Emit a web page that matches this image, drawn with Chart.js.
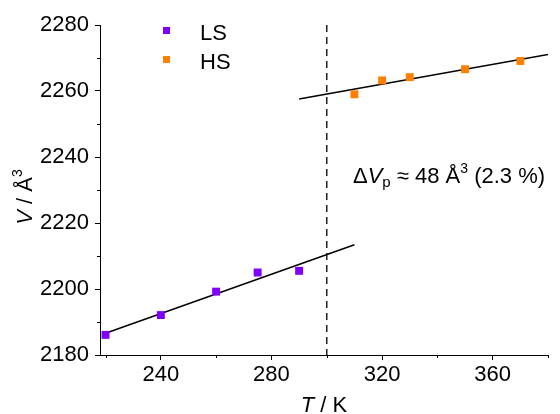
<!DOCTYPE html>
<html>
<head>
<meta charset="utf-8">
<script src="https://cdn.jsdelivr.net/npm/chart.js@4.4.1/dist/chart.umd.min.js"></script>
<style>
  html, body { margin: 0; padding: 0; background: #fff; }
  #wrap { width: 560px; height: 414px; }
</style>
</head>
<body>
<div id="wrap"><canvas id="chart" width="560" height="414"></canvas></div>
<script>
// Data
const lsTemps = [220, 240, 260, 275, 290];
const lsVolumes = [2186.1, 2192.1, 2199.2, 2205.0, 2205.5];
const hsTemps = [310, 320, 330, 350, 370];
const hsVolumes = [2259.0, 2263.2, 2264.2, 2266.6, 2269.1];

// Linear fit lines (endpoints)
const lsFitT = [220, 310];
const lsFitV = [2186.6, 2213.4];
const hsFitT = [290, 380];
const hsFitV = [2257.6, 2271.1];

// Transition temperature marker
const transitionT = 300;

// Axis ticks
const xTicks = [220, 240, 260, 280, 300, 320, 340, 360, 380];
const xMajor = [240, 280, 320, 360];
const yTicks = [2180, 2190, 2200, 2210, 2220, 2230, 2240, 2250, 2260, 2270, 2280];
const yMajor = [2180, 2200, 2220, 2240, 2260, 2280];

const FONT = "'Liberation Sans', Arial, sans-serif";
const PURPLE = '#7f00ff';
const ORANGE = '#ff7f00';

const toPoints = (xs, ys) => xs.map((x, i) => ({ x: x, y: ys[i] }));

// Draws minor ticks, axis titles, legend and annotation
const extrasPlugin = {
    id: 'extras',
    afterDraw(chart) {
        const ctx = chart.ctx;
        const xs = chart.scales.x;
        const ys = chart.scales.y;
        const area = chart.chartArea;

        ctx.save();
        ctx.strokeStyle = '#000';
        ctx.lineWidth = 1;
        // minor ticks
        xTicks.filter(v => !xMajor.includes(v)).forEach(v => {
            const px = Math.round(xs.getPixelForValue(v)) + 0.5;
            ctx.beginPath();
            ctx.moveTo(px, area.bottom);
            ctx.lineTo(px, area.bottom + 3);
            ctx.stroke();
        });
        yTicks.filter(v => !yMajor.includes(v)).forEach(v => {
            const py = Math.round(ys.getPixelForValue(v)) + 0.5;
            ctx.beginPath();
            ctx.moveTo(area.left, py);
            ctx.lineTo(area.left - 3, py);
            ctx.stroke();
        });

        ctx.fillStyle = '#000';
        ctx.textBaseline = 'alphabetic';

        // x axis title: T / K
        let parts = [
            { t: 'T', f: 'italic 22px ' + FONT },
            { t: ' / K', f: '22px ' + FONT }
        ];
        drawRich(ctx, parts, (area.left + area.right) / 2, 412, true);

        // y axis title: V / Å³ (rotated)
        ctx.save();
        ctx.translate(32, 197);
        ctx.rotate(-Math.PI / 2);
        parts = [
            { t: 'V', f: 'italic 22px ' + FONT },
            { t: ' / Å', f: '22px ' + FONT },
            { t: '3', f: '14px ' + FONT, dy: -10 }
        ];
        drawRich(ctx, parts, 0, 0, true);
        ctx.restore();

        // legend
        const legend = [
            { label: 'LS', color: PURPLE, y: 31 },
            { label: 'HS', color: ORANGE, y: 60 }
        ];
        legend.forEach(item => {
            ctx.fillStyle = item.color;
            ctx.fillRect(163, item.y - 4, 7, 7);
            ctx.fillStyle = '#000';
            ctx.font = '22px ' + FONT;
            ctx.fillText(item.label, 200, item.y + 9);
        });

        // annotation
        parts = [
            { t: 'Δ', f: '22px ' + FONT },
            { t: 'V', f: 'italic 22px ' + FONT },
            { t: 'p', f: '15px ' + FONT, dy: 4 },
            { t: ' ≈ 48 Å', f: '22px ' + FONT },
            { t: '3', f: '14px ' + FONT, dy: -10 },
            { t: ' (2.3 %)', f: '22px ' + FONT }
        ];
        drawRich(ctx, parts, 353, 183, false);
        ctx.restore();
    }
};

function drawRich(ctx, parts, x, y, centered) {
    let total = 0;
    parts.forEach(p => { ctx.font = p.f; total += ctx.measureText(p.t).width; });
    let cx = centered ? x - total / 2 : x;
    ctx.textAlign = 'left';
    parts.forEach(p => {
        ctx.font = p.f;
        ctx.fillText(p.t, cx, y + (p.dy || 0));
        cx += ctx.measureText(p.t).width;
    });
}

new Chart(document.getElementById('chart'), {
    type: 'scatter',
    data: {
        datasets: [
            {
                label: 'LS',
                data: toPoints(lsTemps, lsVolumes),
                pointStyle: 'rect',
                pointRadius: 5.6,
                pointHoverRadius: 5.6,
                pointBorderWidth: 0,
                backgroundColor: PURPLE,
                borderColor: PURPLE,
                order: 1
            },
            {
                label: 'HS',
                data: toPoints(hsTemps, hsVolumes),
                pointStyle: 'rect',
                pointRadius: 5.6,
                pointHoverRadius: 5.6,
                pointBorderWidth: 0,
                backgroundColor: ORANGE,
                borderColor: ORANGE,
                order: 1
            },
            {
                label: 'LS fit',
                type: 'line',
                data: toPoints(lsFitT, lsFitV),
                borderColor: '#000',
                borderWidth: 1.5,
                pointRadius: 0,
                fill: false,
                order: 2
            },
            {
                label: 'HS fit',
                type: 'line',
                data: toPoints(hsFitT, hsFitV),
                borderColor: '#000',
                borderWidth: 1.5,
                pointRadius: 0,
                fill: false,
                order: 2
            },
            {
                label: 'transition',
                type: 'line',
                data: [{ x: transitionT, y: 2280 }, { x: transitionT, y: 2180 }],
                borderColor: '#222',
                borderWidth: 1.5,
                borderDash: [7, 5],
                pointRadius: 0,
                fill: false,
                order: 3
            }
        ]
    },
    options: {
        responsive: false,
        animation: false,
        devicePixelRatio: 1,
        layout: { padding: { top: 25, right: 12, left: 0, bottom: 0 } },
        plugins: {
            legend: { display: false },
            tooltip: { enabled: false }
        },
        scales: {
            x: {
                type: 'linear',
                min: 218,
                max: 380,
                afterBuildTicks: scale => { scale.ticks = xTicks.map(v => ({ value: v })); },
                afterFit: scale => { scale.height = 59; },
                grid: {
                    display: true,
                    drawOnChartArea: false,
                    drawTicks: true,
                    tickLength: 5,
                    tickColor: c => xMajor.includes(c.tick && c.tick.value) ? '#000' : 'rgba(0,0,0,0)'
                },
                border: { display: true, color: '#000', width: 1 },
                ticks: {
                    color: '#000',
                    padding: 2,
                    maxRotation: 0,
                    autoSkip: false,
                    font: { family: FONT, size: 22 },
                    callback: v => xMajor.includes(v) ? String(v) : ''
                }
            },
            y: {
                type: 'linear',
                min: 2180,
                max: 2280,
                afterBuildTicks: scale => { scale.ticks = yTicks.map(v => ({ value: v })); },
                afterFit: scale => { scale.width = 100; },
                grid: {
                    display: true,
                    drawOnChartArea: false,
                    drawTicks: true,
                    tickLength: 5,
                    tickColor: c => yMajor.includes(c.tick && c.tick.value) ? '#000' : 'rgba(0,0,0,0)'
                },
                border: { display: true, color: '#000', width: 1 },
                ticks: {
                    color: '#000',
                    padding: 6,
                    autoSkip: false,
                    font: { family: FONT, size: 22 },
                    callback: v => yMajor.includes(v) ? String(v) : ''
                }
            }
        }
    },
    plugins: [extrasPlugin]
});
</script>
</body>
</html>
